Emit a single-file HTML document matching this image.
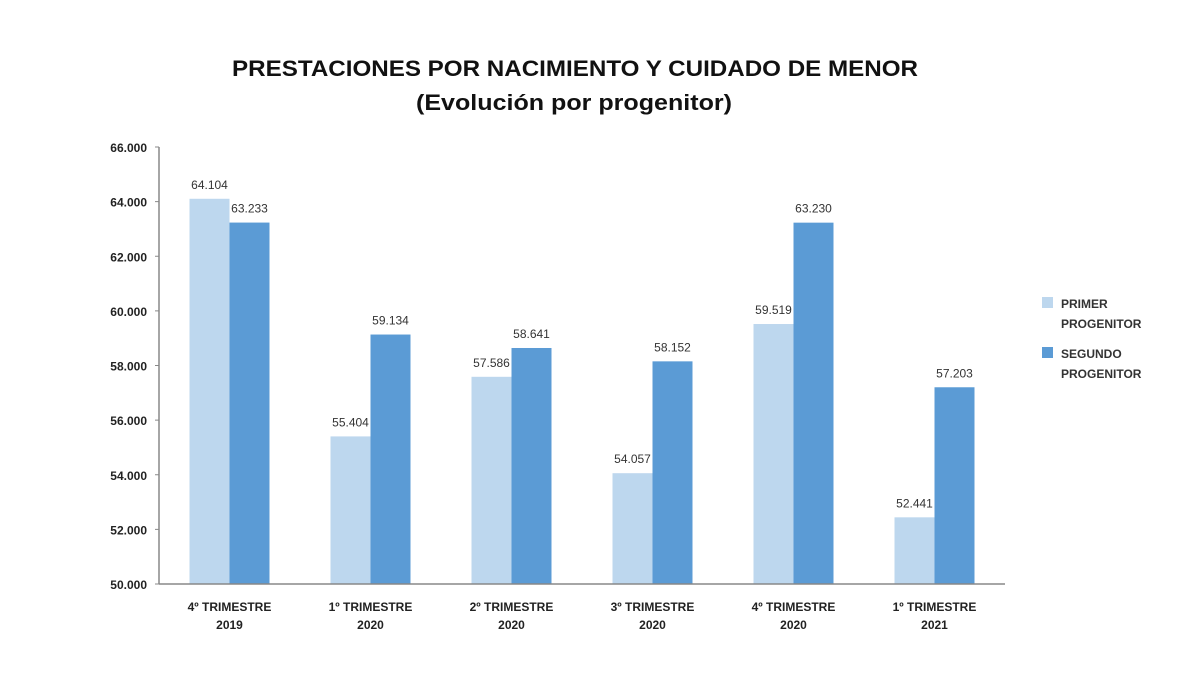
<!DOCTYPE html>
<html><head><meta charset="utf-8"><style>
body{margin:0;background:#fff;font-family:"Liberation Sans",sans-serif;}
</style></head><body>
<svg id="chart" width="1200" height="686" xmlns="http://www.w3.org/2000/svg">
<rect width="1200" height="686" fill="#fff"/>
<text x="575" y="76" text-anchor="middle" font-size="22" font-weight="bold" fill="#111" textLength="686" lengthAdjust="spacingAndGlyphs">PRESTACIONES POR NACIMIENTO Y CUIDADO DE MENOR</text>
<text x="574" y="110" text-anchor="middle" font-size="22" font-weight="bold" fill="#111" textLength="316" lengthAdjust="spacingAndGlyphs">(Evolución por progenitor)</text>
<g id="plot"></g>
<g>
<rect x="1042" y="297" width="11" height="11" fill="#bdd7ee"/>
<text x="1061" y="308" font-size="12" font-weight="bold" fill="#333"><tspan x="1061">PRIMER</tspan><tspan x="1061" dy="20">PROGENITOR</tspan></text>
<rect x="1042" y="347" width="11" height="11" fill="#5b9bd5"/>
<text x="1061" y="358" font-size="12" font-weight="bold" fill="#333"><tspan x="1061">SEGUNDO</tspan><tspan x="1061" dy="20">PROGENITOR</tspan></text>
</g>
</svg>
<script>
const categories=[["4º TRIMESTRE","2019"],["1º TRIMESTRE","2020"],["2º TRIMESTRE","2020"],["3º TRIMESTRE","2020"],["4º TRIMESTRE","2020"],["1º TRIMESTRE","2021"]];
const primer=[64104,55404,57586,54057,59519,52441];
const segundo=[63233,59134,58641,58152,63230,57203];
const ticks=[50000,52000,54000,56000,58000,60000,62000,64000,66000];
const NS="http://www.w3.org/2000/svg";
const g=document.getElementById('plot');
const x0=159,x1=1005,yTop=147,yBot=584,vMin=50000,vMax=66000;
const bw=(x1-x0)/categories.length;
function y(v){return yBot-(v-vMin)/(vMax-vMin)*(yBot-yTop);}
function fmt(v){return String(v).replace(/\B(?=(\d{3})+(?!\d))/g,'.');}
function mk(t,a){const e=document.createElementNS(NS,t);for(const k in a)e.setAttribute(k,a[k]);g.appendChild(e);return e;}
ticks.forEach(t=>{
 const tx=mk('text',{x:x0-12,y:y(t)+5,'text-anchor':'end','font-size':12,'font-weight':'bold',fill:'#222'});
 tx.textContent=fmt(t);
 
 
 const tl=mk('line',{x1:x0-4,x2:x0,y1:y(t),y2:y(t),stroke:'#888'});
 
 
});
categories.forEach((c,i)=>{
 const cx=x0+bw*(i+0.5);
 const a=mk('rect',{x:cx-40,y:y(primer[i]),width:40,height:yBot-y(primer[i]),fill:'#bdd7ee'});
 
 
 const b=mk('rect',{x:cx,y:y(segundo[i]),width:40,height:yBot-y(segundo[i]),fill:'#5b9bd5'});
 
 
 const la=mk('text',{x:cx-20,y:y(primer[i])-10,'text-anchor':'middle','font-size':12,fill:'#333'});
 la.textContent=fmt(primer[i]);
 
 
 const lb=mk('text',{x:cx+20,y:y(segundo[i])-10,'text-anchor':'middle','font-size':12,fill:'#333'});
 lb.textContent=fmt(segundo[i]);
 
 
 const cl=mk('text',{x:cx,y:611,'text-anchor':'middle','font-size':12,'font-weight':'bold',fill:'#222'});
 cl.innerHTML='<tspan x="'+cx+'">'+c[0]+'</tspan><tspan x="'+cx+'" dy="18">'+c[1]+'</tspan>';
 
 
});
const ya=mk('line',{x1:x0,x2:x0,y1:yTop,y2:yBot,stroke:'#888','stroke-width':1.5});


const xa=mk('line',{x1:x0,x2:x1,y1:yBot,y2:yBot,stroke:'#888','stroke-width':1.5});


</script>
</body></html>
